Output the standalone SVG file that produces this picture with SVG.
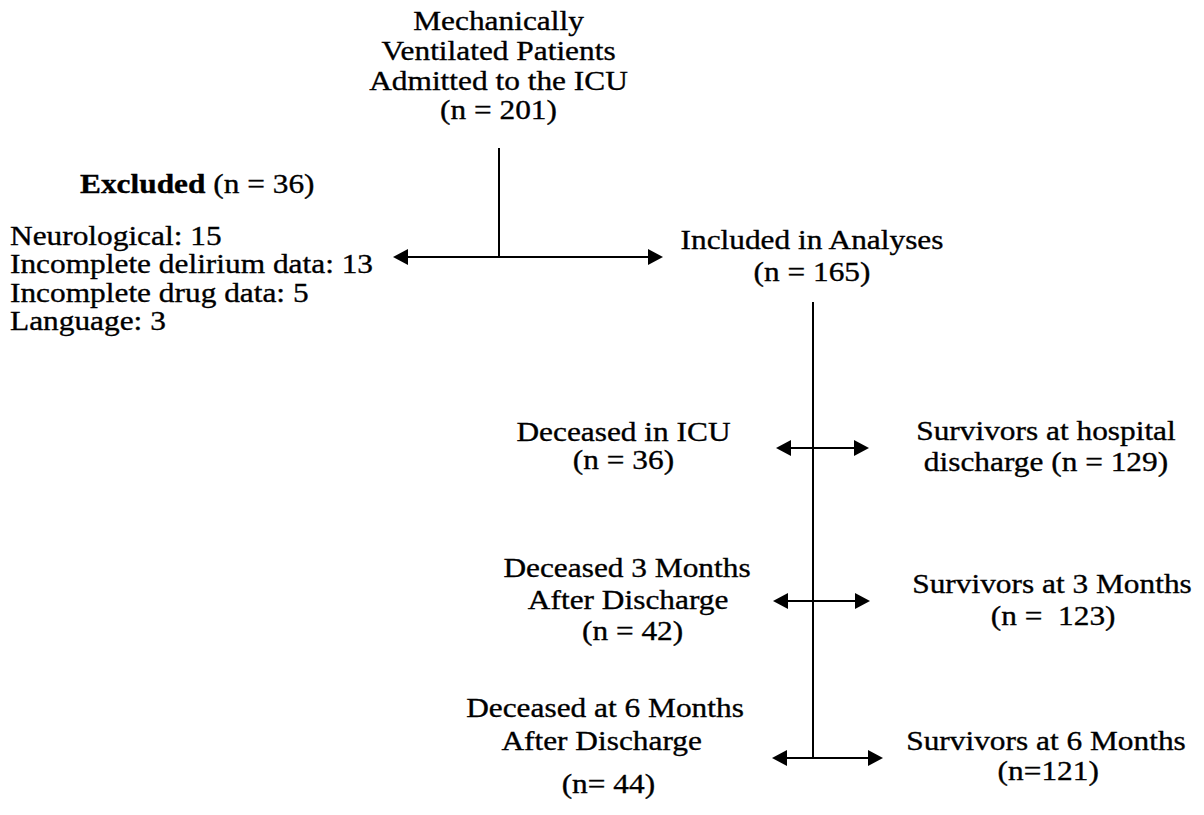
<svg xmlns="http://www.w3.org/2000/svg" width="1204" height="815" viewBox="0 0 1204 815">
<style>
text{font-family:"Liberation Serif","Times New Roman",serif;font-size:28px;fill:#000;stroke:#000;stroke-width:0.35}
.c{text-anchor:middle}
.b{font-weight:bold}
.ln{stroke:#000;stroke-width:2;fill:none}
</style>
<defs>
<marker id="ah" markerUnits="userSpaceOnUse" markerWidth="18" markerHeight="18" refX="13" refY="8" orient="auto-start-reverse" viewBox="0 0 18 18">
<path d="M0,0 L15,8 L0,16 z" fill="#000"/>
</marker>
</defs>
<rect width="1204" height="815" fill="#fff"/>
<g id="connectors">
<line class="ln" x1="499" y1="148" x2="499" y2="257"/>
<line class="ln" x1="395" y1="257" x2="661" y2="257" marker-start="url(#ah)" marker-end="url(#ah)"/>
<line class="ln" x1="813" y1="302" x2="813" y2="758"/>
<line class="ln" x1="778" y1="448" x2="867" y2="448" marker-start="url(#ah)" marker-end="url(#ah)"/>
<line class="ln" x1="775" y1="601" x2="868" y2="601" marker-start="url(#ah)" marker-end="url(#ah)"/>
<line class="ln" x1="774" y1="758" x2="881" y2="758" marker-start="url(#ah)" marker-end="url(#ah)"/>
</g>
<g id="admitted">
<text class="c" transform="translate(498.5,30) scale(1.12,1)"><tspan x="0" y="0">Mechanically</tspan><tspan x="0" y="29.8">Ventilated Patients</tspan><tspan x="0" y="59.6">Admitted to the ICU</tspan><tspan x="0" y="89.4">(n = 201)</tspan></text>
</g>
<g id="excluded">
<text transform="translate(80,193) scale(1.12,1)"><tspan class="b">Excluded</tspan> (n = 36)</text>
<text transform="translate(10,245) scale(1.12,1)"><tspan x="0" y="0">Neurological: 15</tspan><tspan x="0" y="28.3">Incomplete delirium data: 13</tspan><tspan x="0" y="56.6">Incomplete drug data: 5</tspan><tspan x="0" y="84.9">Language: 3</tspan></text>
</g>
<g id="included">
<text class="c" transform="translate(812,249) scale(1.12,1)"><tspan x="0" y="0">Included in Analyses</tspan><tspan x="0" y="32">(n = 165)</tspan></text>
</g>
<g id="deceased-icu">
<text class="c" transform="translate(623.5,441) scale(1.12,1)"><tspan x="0" y="0">Deceased in ICU</tspan><tspan x="0" y="28">(n = 36)</tspan></text>
</g>
<g id="survivors-hospital">
<text class="c" transform="translate(1046,440) scale(1.12,1)"><tspan x="0" y="0">Survivors at hospital</tspan><tspan x="0" y="31">discharge (n = 129)</tspan></text>
</g>
<g id="deceased-3m">
<text class="c" transform="translate(627,577) scale(1.12,1)"><tspan x="0" y="0">Deceased 3 Months</tspan><tspan x="1" y="32">After Discharge</tspan><tspan x="5" y="63">(n = 42)</tspan></text>
</g>
<g id="survivors-3m">
<text class="c" xml:space="preserve" transform="translate(1052,593) scale(1.12,1)"><tspan x="0" y="0">Survivors at 3 Months</tspan><tspan x="1" y="32">(n =  123)</tspan></text>
</g>
<g id="deceased-6m">
<text class="c" transform="translate(605,717) scale(1.12,1)"><tspan x="0" y="0">Deceased at 6 Months</tspan><tspan x="-3" y="33">After Discharge</tspan><tspan x="3" y="76">(n= 44)</tspan></text>
</g>
<g id="survivors-6m">
<text class="c" transform="translate(1046,750) scale(1.12,1)"><tspan x="0" y="0">Survivors at 6 Months</tspan><tspan x="2" y="30">(n=121)</tspan></text>
</g>
</svg>
